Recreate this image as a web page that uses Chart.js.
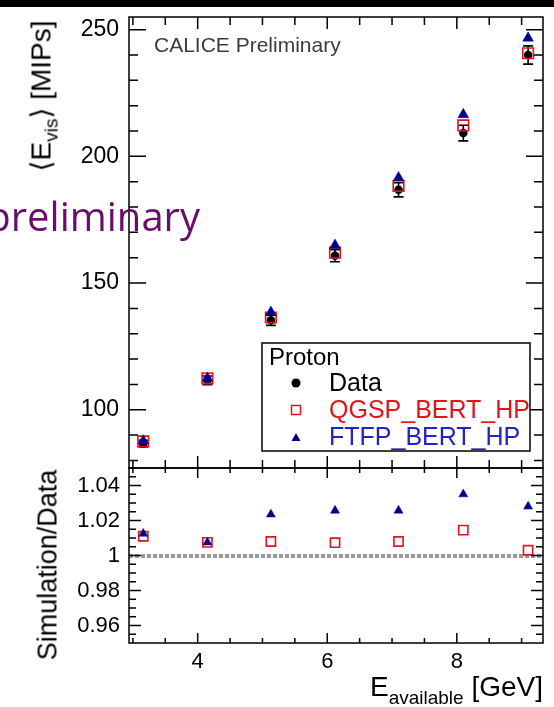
<!DOCTYPE html>
<html>
<head>
<meta charset="utf-8">
<script src="https://cdn.jsdelivr.net/npm/chart.js@4.4.1/dist/chart.umd.min.js"></script>
<style>
  html, body { margin: 0; padding: 0; background: #fff; }
  #page { position: relative; width: 554px; height: 707px; overflow: hidden; background: #fff;
          font-family: "Liberation Sans", Arial, sans-serif; color: #000; }
  #topbar { position: absolute; left: 0; top: 0; width: 554px; height: 7px; background: #000; }
  canvas { position: absolute; left: 0; top: 0; }
  .rot { position: absolute; white-space: nowrap; transform: translate(-50%, -50%) rotate(-90deg); }
  .sub { position: relative; }
</style>
</head>
<body>
<div id="page">
  <div id="topbar"></div>
  <canvas id="topChart" width="554" height="707"></canvas>
  <canvas id="ratioChart" width="554" height="707"></canvas>

  <div class="rot" style="left:43px; top:96px; font-size:28px; line-height:28px;">&#x27E8;E<span class="sub" style="font-size:19px; top:7px;">vis</span>&#x27E9; [MIPs]</div>
  <div class="rot" style="left:48px; top:565px; font-size:27px; line-height:27px;">Simulation/Data</div>
  <div style="position:absolute; right:11px; top:673px; font-size:28px; line-height:28px; white-space:nowrap;">E<span class="sub" style="font-size:19px; top:8px;">available</span> [GeV]</div>
  <div style="position:absolute; left:154px; top:34px; font-size:21px; line-height:21px; color:#3c3c3c; white-space:nowrap;">CALICE Preliminary</div>
  <div style="position:absolute; right:354px; top:196px; font-family:'Open Sans', sans-serif; font-size:40px; line-height:40px; color:#6b0d6b; white-space:nowrap;">preliminary</div>
</div>

<script>
  // beam energy and mean visible energy
  const energy = [3.16, 4.15, 5.13, 6.12, 7.10, 8.10, 9.10];
  const mipsData = [86.6, 111.6, 135.3, 160.8, 186.8, 209.2, 240.0];
  const mipsDataErr = [1.3, 1.7, 2.0, 2.4, 2.8, 3.1, 3.6];
  const mipsQgsp = [87.5, 112.4, 136.4, 162.0, 188.3, 212.2, 240.7];
  const mipsFtfp = [87.7, 112.4, 138.5, 164.9, 191.6, 216.5, 246.7];

  // simulation / data
  const ratioQgsp = [1.011, 1.0075, 1.008, 1.0073, 1.008, 1.0145, 1.003];
  const ratioFtfp = [1.0125, 1.0075, 1.0235, 1.0257, 1.0257, 1.035, 1.028];

  // labelled ticks
  const energyTicks = [4, 6, 8];
  const mipsTicks = [100, 150, 200, 250];
  const ratioTicks = [0.96, 0.98, 1, 1.02, 1.04];

  const RED = '#e3121b';
  const BLUE = '#00008f';
  const tickFont = { family: 'Liberation Sans', size: 22 };

  const pts = ys => energy.map((x, i) => ({ x: x, y: ys[i] }));
  const isIn = (list, v) => list.some(t => Math.abs(t - v) < 1e-9);

  // fixed axis width, no extra label padding pushing the plot area
  const fixWidth = s => { s.width = 129; s.paddingTop = 0; s.paddingBottom = 0; };

  /* ROOT style frame with inward ticks on all four sides */
  const rootFrame = {
    id: 'rootFrame',
    afterDatasetsDraw(chart, args, o) {
      const { ctx, chartArea: a, scales: { x, y } } = chart;
      ctx.save();
      ctx.strokeStyle = '#000';
      ctx.lineWidth = 1.5;
      ctx.beginPath();
      x.ticks.forEach(t => {
        if (t.value <= x.min || t.value >= x.max) return;
        const px = x.getPixelForValue(t.value);
        const len = t.label !== '' ? o.xMajor : o.xMinor;
        ctx.moveTo(px, a.bottom); ctx.lineTo(px, a.bottom - len);
        ctx.moveTo(px, a.top); ctx.lineTo(px, a.top + len);
      });
      y.ticks.forEach(t => {
        if (t.value <= y.min || t.value >= y.max) return;
        const py = y.getPixelForValue(t.value);
        const len = t.label !== '' ? o.yMajor : o.yMinor;
        ctx.moveTo(a.left, py); ctx.lineTo(a.left + len, py);
        ctx.moveTo(a.right, py); ctx.lineTo(a.right - len, py);
      });
      ctx.stroke();
      ctx.strokeRect(a.left, a.top, a.width, a.height);
      ctx.restore();
    }
  };

  /* error bars on the data points */
  const errorBars = {
    id: 'errorBars',
    beforeDatasetsDraw(chart) {
      const { ctx, scales: { x, y } } = chart;
      ctx.save();
      ctx.strokeStyle = '#000';
      ctx.lineWidth = 1.6;
      ctx.beginPath();
      energy.forEach((e, i) => {
        const px = x.getPixelForValue(e);
        const lo = y.getPixelForValue(mipsData[i] - mipsDataErr[i]);
        const hi = y.getPixelForValue(mipsData[i] + mipsDataErr[i]);
        ctx.moveTo(px, lo); ctx.lineTo(px, hi);
        ctx.moveTo(px - 5, lo); ctx.lineTo(px + 5, lo);
        ctx.moveTo(px - 5, hi); ctx.lineTo(px + 5, hi);
      });
      ctx.stroke();
      ctx.restore();
    }
  };

  /* boxed legend inside the upper panel */
  const boxLegend = {
    id: 'boxLegend',
    afterDraw(chart) {
      const ctx = chart.ctx;
      const bx = 262, by = 343, bw = 268, bh = 108;
      ctx.save();
      ctx.fillStyle = '#fff';
      ctx.fillRect(bx, by, bw, bh);
      ctx.strokeStyle = '#000';
      ctx.lineWidth = 1.5;
      ctx.strokeRect(bx, by, bw, bh);

      ctx.textBaseline = 'alphabetic';
      ctx.fillStyle = '#000';
      ctx.font = '24px "Liberation Sans", Arial, sans-serif';
      ctx.fillText('Proton', 269, 365);
      ctx.font = '25px "Liberation Sans", Arial, sans-serif';

      const mx = 296;
      // Data
      ctx.beginPath(); ctx.arc(mx, 383, 4.5, 0, Math.PI * 2); ctx.fill();
      ctx.fillText('Data', 329, 391);
      // QGSP
      ctx.strokeStyle = RED; ctx.lineWidth = 1.5;
      ctx.strokeRect(mx - 4.5, 410 - 4.5, 9, 9);
      ctx.fillStyle = RED;
      ctx.fillText('QGSP_BERT_HP', 329, 418);
      // FTFP
      ctx.fillStyle = BLUE;
      ctx.beginPath(); ctx.moveTo(mx, 433); ctx.lineTo(mx + 4.5, 441); ctx.lineTo(mx - 4.5, 441); ctx.closePath(); ctx.fill();
      ctx.fillStyle = '#2323c4';
      ctx.fillText('FTFP_BERT_HP', 329, 445);
      ctx.restore();
    }
  };

  /* dashed line at ratio 1 */
  const unityLine = {
    id: 'unityLine',
    beforeDatasetsDraw(chart) {
      const { ctx, chartArea: a, scales: { y } } = chart;
      const py = Math.round(y.getPixelForValue(1));
      ctx.save();
      ctx.strokeStyle = '#999';
      ctx.lineWidth = 4;
      ctx.setLineDash([4, 2]);
      ctx.beginPath();
      ctx.moveTo(a.left, py); ctx.lineTo(a.right, py);
      ctx.stroke();
      ctx.restore();
    }
  };

  const common = {
    responsive: false,
    animation: false,
    devicePixelRatio: 1,
    events: [],
  };

  new Chart(document.getElementById('topChart'), {
    type: 'scatter',
    data: {
      datasets: [
        { label: 'Data', data: pts(mipsData), pointStyle: 'circle', pointRadius: 4.3,
          backgroundColor: '#000', borderColor: '#000', borderWidth: 0, order: 3 },
        { label: 'QGSP_BERT_HP', data: pts(mipsQgsp), pointStyle: 'rect', pointRadius: 7.5,
          backgroundColor: 'rgba(0,0,0,0)', borderColor: RED, borderWidth: 1.6, order: 2 },
        { label: 'FTFP_BERT_HP', data: pts(mipsFtfp), pointStyle: 'triangle', pointRadius: 6.2,
          backgroundColor: BLUE, borderColor: BLUE, borderWidth: 0.5, order: 1 }
      ]
    },
    options: {
      ...common,
      layout: { padding: { top: 17, right: 11, bottom: 239, left: 0 } },
      plugins: { legend: { display: false }, tooltip: { enabled: false },
                 rootFrame: { xMajor: 12, xMinor: 8, yMajor: 17, yMinor: 9 } },
      scales: {
        x: {
          type: 'linear', min: 2.94, max: 9.33,
          afterFit: s => { s.height = 0; },
          grid: { display: false, drawTicks: false }, border: { display: false },
          ticks: { display: false, stepSize: 0.5, includeBounds: false, autoSkip: false,
                   callback: v => isIn(energyTicks, v) ? String(v) : '' }
        },
        y: {
          type: 'linear', min: 77, max: 255,
          afterFit: fixWidth,
          grid: { display: false, drawTicks: false }, border: { display: false },
          ticks: { stepSize: 10, includeBounds: false, autoSkip: false, padding: 10,
                   font: { family: 'Liberation Sans', size: 23 }, color: '#000',
                   callback: v => isIn(mipsTicks, v) ? String(v) : '' }
        }
      }
    },
    plugins: [errorBars, rootFrame, boxLegend]
  });

  new Chart(document.getElementById('ratioChart'), {
    type: 'scatter',
    data: {
      datasets: [
        { label: 'QGSP_BERT_HP', data: pts(ratioQgsp), pointStyle: 'rect', pointRadius: 6.5,
          backgroundColor: 'rgba(0,0,0,0)', borderColor: RED, borderWidth: 1.6, order: 2 },
        { label: 'FTFP_BERT_HP', data: pts(ratioFtfp), pointStyle: 'triangle', pointRadius: 5.2,
          backgroundColor: BLUE, borderColor: BLUE, borderWidth: 0.5, order: 1 }
      ]
    },
    options: {
      ...common,
      layout: { padding: { top: 468, right: 11, bottom: 24, left: 0 } },
      plugins: { legend: { display: false }, tooltip: { enabled: false },
                 rootFrame: { xMajor: 10, xMinor: 5, yMajor: 12, yMinor: 7 } },
      scales: {
        x: {
          type: 'linear', min: 2.94, max: 9.33,
          afterFit: s => { s.height = 40; },
          grid: { display: false, drawTicks: false }, border: { display: false },
          ticks: { stepSize: 0.5, includeBounds: false, autoSkip: false, maxRotation: 0, padding: 6,
                   font: tickFont, color: '#000',
                   callback: v => isIn(energyTicks, v) ? String(v) : '' }
        },
        y: {
          type: 'linear', min: 0.95, max: 1.05,
          afterFit: fixWidth,
          grid: { display: false, drawTicks: false }, border: { display: false },
          ticks: { stepSize: 0.005, includeBounds: false, autoSkip: false, padding: 9,
                   font: tickFont, color: '#000',
                   callback: v => {
                     if (!isIn(ratioTicks, v)) return '';
                     return Math.abs(v - 1) < 1e-9 ? '1' : v.toFixed(2);
                   } }
        }
      }
    },
    plugins: [unityLine, rootFrame]
  });
</script>
</body>
</html>
